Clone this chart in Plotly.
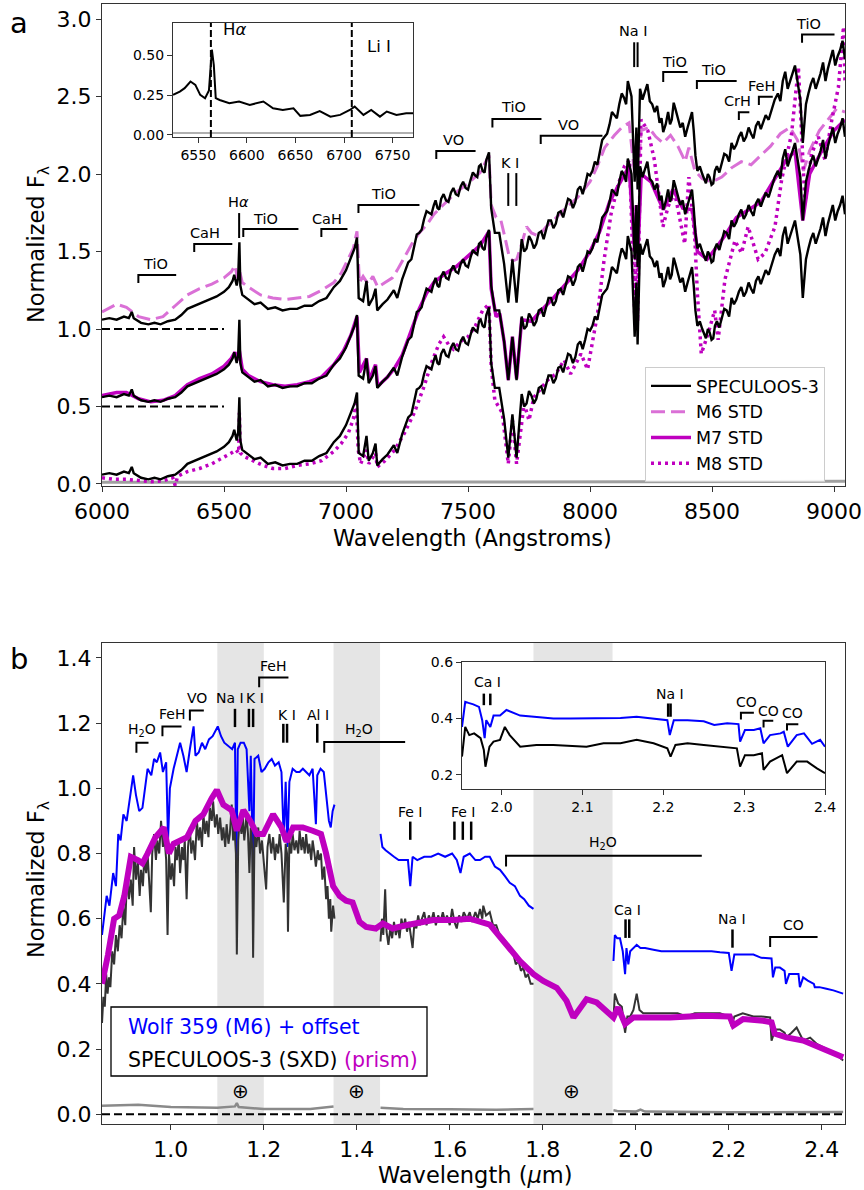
import plotly.graph_objects as go

FONT = "DejaVu Sans"
W, H = 864, 1190

# ======================= Panel (a): optical spectra =======================
SPEC3_WAVE = [6000, 6030, 6060, 6090, 6110, 6122, 6130, 6160, 6190, 6215, 6240, 6270, 6300, 6325, 6350,
              6380, 6410, 6440, 6470, 6500, 6520, 6535, 6542, 6552, 6558, 6563, 6567, 6575, 6600, 6625,
              6650, 6680, 6710, 6740, 6770, 6800, 6830, 6860, 6890, 6920, 6950, 6975, 7000, 7020, 7035,
              7045, 7052, 7070, 7084, 7093, 7110, 7121, 7128, 7150, 7170, 7196, 7210, 7230, 7255, 7268,
              7280, 7290, 7300, 7310, 7320, 7330, 7340, 7350, 7360, 7367, 7375, 7382, 7390, 7400, 7410,
              7420, 7430, 7440, 7450, 7460, 7470, 7480, 7490, 7500, 7510, 7520, 7530, 7538, 7545, 7552,
              7560, 7568, 7575, 7580, 7586, 7595, 7610, 7628, 7648, 7665, 7682, 7699, 7720, 7730, 7740,
              7750, 7760, 7770, 7780, 7790, 7800, 7810, 7820, 7830, 7840, 7850, 7860, 7870, 7880, 7890,
              7900, 7910, 7920, 7930, 7940, 7950, 7960, 7970, 7980, 7990, 8000, 8010, 8020, 8030, 8040,
              8050, 8060, 8070, 8080, 8090, 8100, 8110, 8120, 8130, 8140, 8148, 8155, 8170, 8183, 8190,
              8195, 8205, 8215, 8225, 8235, 8245, 8255, 8265, 8275, 8285, 8293, 8300, 8310, 8320, 8328,
              8335, 8343, 8350, 8360, 8370, 8380, 8390, 8400, 8410, 8418, 8425, 8432, 8440, 8450, 8460,
              8468, 8475, 8483, 8490, 8498, 8505, 8512, 8520, 8530, 8540, 8550, 8560, 8570, 8580, 8590,
              8600, 8610, 8620, 8630, 8640, 8650, 8660, 8670, 8680, 8690, 8700, 8710, 8720, 8732, 8745,
              8757, 8770, 8780, 8790, 8800, 8810, 8820, 8830, 8840, 8850, 8862, 8872, 8885, 8895, 8905,
              8915, 8925, 8935, 8945, 8955, 8965, 8975, 8985, 8995, 9005, 9015, 9025, 9035, 9045]
SPEC3_FLUX = [0.06, 0.07, 0.06, 0.08, 0.07, 0.11, 0.07, 0.04, 0.03, 0.04, 0.03, 0.05, 0.06, 0.09, 0.13,
              0.15, 0.17, 0.19, 0.21, 0.24, 0.27, 0.31, 0.35, 0.28, 0.33, 0.56, 0.28, 0.22, 0.19, 0.16,
              0.17, 0.13, 0.14, 0.12, 0.13, 0.13, 0.15, 0.15, 0.18, 0.20, 0.27, 0.31, 0.38, 0.46, 0.52,
              0.59, 0.20, 0.18, 0.31, 0.15, 0.20, 0.26, 0.12, 0.16, 0.19, 0.25, 0.20, 0.32, 0.43, 0.45,
              0.54, 0.61, 0.62, 0.64, 0.71, 0.76, 0.75, 0.74, 0.80, 0.83, 0.78, 0.77, 0.84, 0.87, 0.83,
              0.82, 0.88, 0.91, 0.87, 0.86, 0.92, 0.95, 0.91, 0.90, 0.96, 1.01, 0.99, 0.98, 1.05, 1.06,
              1.02, 1.01, 1.09, 1.12, 1.14, 0.78, 0.62, 0.62, 0.42, 0.17, 0.45, 0.17, 0.58, 0.50, 0.52,
              0.60, 0.57, 0.52, 0.55, 0.62, 0.63, 0.58, 0.64, 0.70, 0.70, 0.65, 0.68, 0.75, 0.76, 0.72,
              0.78, 0.84, 0.83, 0.78, 0.82, 0.90, 0.92, 0.87, 0.93, 1.00, 0.99, 1.02, 1.08, 1.06, 1.14,
              1.22, 1.24, 1.26, 1.32, 1.40, 1.38, 1.36, 1.45, 1.52, 1.49, 1.45, 1.60, 1.50, 0.95, 1.30,
              0.90, 1.55, 1.48, 1.53, 1.58, 1.47, 1.45, 1.40, 1.44, 1.33, 1.36, 1.27, 1.32, 1.40, 1.32,
              1.35, 1.46, 1.42, 1.35, 1.30, 1.33, 1.24, 1.30, 1.36, 1.40, 1.28, 1.12, 1.02, 1.05, 1.00,
              0.96, 0.94, 1.00, 0.98, 0.93, 0.94, 1.02, 1.05, 1.01, 1.08, 1.13, 1.12, 1.08, 1.20, 1.16,
              1.19, 1.24, 1.27, 1.21, 1.24, 1.30, 1.26, 1.23, 1.31, 1.34, 1.29, 1.33, 1.38, 1.35, 1.42,
              1.48, 1.52, 1.47, 1.60, 1.66, 1.55, 1.60, 1.66, 1.70, 1.60, 1.48, 1.20, 1.45, 1.52, 1.58,
              1.62, 1.55, 1.60, 1.65, 1.72, 1.60, 1.68, 1.74, 1.80, 1.70, 1.76, 1.80, 1.86, 1.74]

M6_WAVE = [6000, 6060, 6100, 6150, 6200, 6250, 6300, 6350, 6400, 6450, 6500, 6530, 6545, 6555, 6563,
           6575, 6600, 6650, 6700, 6750, 6800, 6850, 6900, 6950, 6980, 7010, 7030, 7045, 7055, 7070,
           7090, 7110, 7130, 7160, 7190, 7210, 7240, 7270, 7300, 7330, 7360, 7400, 7450, 7500, 7550,
           7586, 7595, 7615, 7635, 7650, 7670, 7685, 7700, 7720, 7740, 7760, 7790, 7820, 7850, 7900,
           7950, 8000, 8030, 8060, 8100, 8130, 8160, 8183, 8190, 8195, 8210, 8240, 8270, 8300, 8330,
           8360, 8390, 8405, 8430, 8460, 8500, 8540, 8580, 8620, 8660, 8700, 8740, 8780, 8820, 8850,
           8875, 8900, 8940, 8980, 9010, 9045]
M6_FLUX = [0.11, 0.16, 0.14, 0.08, 0.06, 0.08, 0.15, 0.22, 0.26, 0.29, 0.33, 0.37, 0.41, 0.33, 0.38,
           0.30, 0.27, 0.22, 0.20, 0.19, 0.20, 0.21, 0.25, 0.30, 0.36, 0.45, 0.52, 0.63, 0.30, 0.34,
           0.29, 0.34, 0.27, 0.30, 0.33, 0.38, 0.47, 0.55, 0.62, 0.67, 0.74, 0.80, 0.88, 0.94, 1.01,
           1.12, 0.80, 0.72, 0.70, 0.60, 0.46, 0.44, 0.45, 0.55, 0.66, 0.62, 0.60, 0.66, 0.70, 0.78,
           0.85, 0.95, 1.05, 1.17, 1.25, 1.30, 1.33, 1.00, 1.20, 0.98, 1.28, 1.30, 1.24, 1.20, 1.25,
           1.18, 1.08, 1.17, 1.02, 0.97, 0.95, 0.98, 1.04, 1.08, 1.06, 1.12, 1.18, 1.26, 1.30, 1.22,
           1.02, 1.15, 1.28, 1.36, 1.42, 1.40]

M7_WAVE = [6000, 6060, 6100, 6150, 6200, 6250, 6300, 6350, 6400, 6450, 6500, 6530, 6545, 6555, 6563,
           6575, 6600, 6650, 6700, 6750, 6800, 6850, 6900, 6950, 6990, 7020, 7045, 7055, 7084, 7095,
           7121, 7130, 7170, 7200, 7230, 7270, 7300, 7330, 7360, 7400, 7450, 7500, 7550, 7586, 7595,
           7615, 7630, 7648, 7665, 7682, 7699, 7720, 7760, 7800, 7850, 7900, 7950, 8000, 8040, 8080,
           8120, 8160, 8183, 8190, 8195, 8210, 8250, 8300, 8340, 8380, 8420, 8440, 8480, 8520, 8560,
           8600, 8650, 8700, 8750, 8800, 8840, 8872, 8900, 8950, 9000, 9045]
M7_FLUX = [0.07, 0.09, 0.09, 0.05, 0.03, 0.04, 0.07, 0.14, 0.18, 0.21, 0.26, 0.31, 0.35, 0.30, 0.36,
           0.24, 0.20, 0.16, 0.14, 0.13, 0.14, 0.16, 0.19, 0.27, 0.36, 0.46, 0.58, 0.22, 0.31, 0.17,
           0.27, 0.13, 0.19, 0.25, 0.33, 0.50, 0.63, 0.73, 0.80, 0.85, 0.90, 0.97, 1.04, 1.13, 0.76,
           0.58, 0.60, 0.42, 0.17, 0.45, 0.18, 0.56, 0.55, 0.62, 0.70, 0.79, 0.88, 1.00, 1.13, 1.32,
           1.44, 1.55, 1.00, 1.30, 0.95, 1.50, 1.45, 1.27, 1.40, 1.28, 1.27, 1.00, 0.95, 1.03, 1.12,
           1.22, 1.27, 1.32, 1.45, 1.58, 1.65, 1.20, 1.50, 1.65, 1.78, 1.85]

M8_WAVE = [6000, 6050, 6100, 6150, 6200, 6250, 6290, 6300, 6310, 6350, 6400, 6450, 6500, 6530, 6550,
           6560, 6563, 6567, 6580, 6620, 6660, 6700, 6750, 6800, 6850, 6900, 6950, 6980, 7010, 7030,
           7042, 7050, 7060, 7084, 7093, 7121, 7128, 7160, 7200, 7240, 7280, 7320, 7350, 7380, 7400,
           7420, 7440, 7470, 7500, 7530, 7560, 7586, 7595, 7610, 7640, 7665, 7682, 7699, 7730, 7750,
           7770, 7826, 7860, 7894, 7920, 7963, 7990, 8031, 8058, 8086, 8113, 8141, 8162, 8183, 8190,
           8195, 8209, 8237, 8264, 8299, 8320, 8347, 8388, 8405, 8429, 8440, 8456, 8484, 8511, 8525,
           8553, 8594, 8621, 8648, 8689, 8717, 8758, 8785, 8826, 8854, 8865, 8881, 8908, 8936, 8963,
           8991, 9018, 9039, 9045]
M8_FLUX = [0.04, 0.03, 0.03, 0.02, 0.015, 0.02, 0.04, -0.01, 0.05, 0.08, 0.10, 0.13, 0.17, 0.20, 0.22,
           0.20, 0.46, 0.20, 0.18, 0.15, 0.12, 0.10, 0.10, 0.12, 0.13, 0.15, 0.21, 0.26, 0.33, 0.42,
           0.52, 0.22, 0.13, 0.22, 0.13, 0.20, 0.11, 0.15, 0.22, 0.33, 0.46, 0.63, 0.78, 0.90, 0.95,
           0.90, 0.87, 0.92, 0.95, 1.02, 1.12, 1.16, 0.76, 0.54, 0.46, 0.13, 0.41, 0.13, 0.52, 0.41,
           0.56, 0.67, 0.71, 0.80, 0.71, 0.84, 0.74, 1.10, 1.45, 1.74, 1.92, 2.05, 2.09, 1.10, 1.80,
           1.05, 2.35, 2.28, 2.09, 1.66, 1.79, 1.88, 1.55, 1.98, 1.60, 1.23, 0.84, 0.97, 1.12, 0.93,
           1.32, 1.57, 1.49, 1.66, 1.45, 1.49, 1.66, 1.96, 2.26, 2.69, 2.30, 1.81, 2.13, 2.24, 2.09,
           2.35, 2.56, 2.95, 2.60]

SPEC3_OFFSETS = [1.0, 0.5, 0.0]     # top, middle, bottom copies of SPECULOOS-3
STD_OFFSETS = {"M6": 1.0, "M7": 0.5, "M8": 0.0}
REF_LEVELS_A = [1.0, 0.5]           # dashed zero-levels of offset spectra

NOISE_A_WAVE = [6000, 6500, 7000, 7500, 8000, 8500, 9045]
NOISE_A_FLUX = [0.011, 0.010, 0.012, 0.013, 0.014, 0.015, 0.017]

# inset (a): H-alpha / Li I region
INSET_A_WAVE = [6524, 6531, 6536, 6542, 6547, 6552, 6557, 6561, 6564, 6566, 6568, 6572, 6582, 6592, 6603,
                6617, 6627, 6637, 6648, 6655, 6665, 6675, 6686, 6696, 6706, 6711, 6720, 6728, 6737, 6744,
                6754, 6764, 6771]
INSET_A_FLUX = [0.252, 0.273, 0.294, 0.336, 0.315, 0.252, 0.231, 0.28, 0.536, 0.44, 0.231, 0.22, 0.20,
                0.21, 0.189, 0.21, 0.168, 0.157, 0.168, 0.12, 0.126, 0.15, 0.115, 0.126, 0.157, 0.178,
                0.126, 0.157, 0.115, 0.147, 0.126, 0.136, 0.136]
INSET_A_NOISE_WAVE = [6524, 6650, 6771]
INSET_A_NOISE_FLUX = [0.012, 0.011, 0.012]
INSET_A_LINES = [6563, 6708]

# feature labels (a): brackets = (label, x0, x1, y_line, y_tick, text_x, text_y)
BRACKETS_A = [("TiO", 6149, 6304, 1.348, 1.297, 6218, 1.42),
              ("CaH", 6378, 6534, 1.548, 1.497, 6423, 1.62),
              ("TiO", 6579, 6805, 1.645, 1.594, 6669, 1.71),
              ("CaH", 6899, 7006, 1.645, 1.594, 6923, 1.71),
              ("TiO", 7051, 7301, 1.800, 1.748, 7154, 1.87),
              ("VO", 7370, 7531, 2.148, 2.097, 7441, 2.22),
              ("TiO", 7600, 7801, 2.355, 2.300, 7687, 2.43),
              ("VO", 7798, 8051, 2.247, 2.194, 7913, 2.316),
              ("TiO", 8300, 8400, 2.658, 2.594, 8348, 2.72),
              ("TiO", 8438, 8601, 2.600, 2.548, 8508, 2.67),
              ("CrH", 8610, 8653, 2.398, 2.348, 8605, 2.473),
              ("FeH", 8692, 8749, 2.499, 2.445, 8704, 2.568),
              ("TiO", 8869, 9002, 2.900, 2.847, 8897, 2.97)]
# line markers = (label, [x positions], y0, y1, text_x, text_y)
LINES_A = [("H<i>α</i>", [6562], 1.587, 1.748, 6558, 1.82),
           ("K I", [7665, 7698], 1.794, 2.006, 7673, 2.07),
           ("Na I", [8181, 8195], 2.690, 2.850, 8178, 2.92)]

# ======================= Panel (b): near-infrared spectra =======================
WOLF_J_WAVE = [0.852, 0.858, 0.862, 0.868, 0.876, 0.882, 0.887, 0.892, 0.898, 0.905, 0.912, 0.919, 0.925,
               0.932, 0.939, 0.945, 0.950, 0.958, 0.964, 0.970, 0.977, 0.983, 0.990, 0.994, 0.998, 1.006,
               1.013, 1.020, 1.027, 1.034, 1.041, 1.049, 1.053, 1.060, 1.067, 1.074, 1.082, 1.090, 1.101,
               1.108, 1.115, 1.124, 1.132, 1.138, 1.141, 1.144, 1.150, 1.157, 1.163, 1.169, 1.172, 1.177,
               1.180, 1.188, 1.195, 1.202, 1.210, 1.217, 1.224, 1.232, 1.238, 1.243, 1.247, 1.251, 1.255,
               1.262, 1.270, 1.277, 1.284, 1.291, 1.298, 1.305, 1.312, 1.315, 1.322, 1.329, 1.336, 1.340,
               1.344, 1.348, 1.352]
WOLF_J_FLUX = [0.55, 0.62, 0.67, 0.64, 0.74, 0.70, 0.86, 0.84, 0.92, 0.90, 0.97, 1.04, 0.98,
               0.93, 0.94, 1.00, 1.06, 1.04, 1.09, 1.08, 1.11, 1.05, 1.08, 0.84, 1.00, 1.06,
               1.10, 1.14, 1.10, 1.05, 1.12, 1.19, 1.10, 1.11, 1.14, 1.12, 1.15, 1.16, 1.19,
               1.16, 1.14, 1.13, 1.12, 1.14, 0.74, 1.12, 1.14, 1.14, 1.12, 0.93, 1.10, 0.74,
               1.09, 1.10, 1.05, 1.06, 1.08, 1.09, 1.07, 1.08, 1.05, 0.84, 1.02, 0.82, 1.02,
               1.06, 1.05, 1.05, 1.06, 1.05, 1.04, 1.06, 0.89, 1.04, 1.06, 1.05, 0.96, 0.90,
               0.88, 0.93, 0.95]
WOLF_H_WAVE = [1.451, 1.455, 1.462, 1.470, 1.480, 1.490, 1.500, 1.510, 1.515, 1.520, 1.530, 1.545, 1.560,
               1.575, 1.590, 1.605, 1.615, 1.623, 1.630, 1.643, 1.655, 1.665, 1.676, 1.686, 1.697, 1.708,
               1.719, 1.729, 1.740, 1.751, 1.760, 1.770, 1.780]
WOLF_H_FLUX = [0.86, 0.82, 0.81, 0.80, 0.79, 0.78, 0.78, 0.78, 0.70, 0.79, 0.78, 0.79, 0.79,
               0.80, 0.79, 0.80, 0.78, 0.74, 0.79, 0.80, 0.78, 0.78, 0.79, 0.79, 0.76, 0.75,
               0.73, 0.71, 0.70, 0.67, 0.66, 0.64, 0.63]
WOLF_K_WAVE = [1.952, 1.955, 1.960, 1.966, 1.972, 1.977, 1.980, 1.984, 1.988, 1.995, 2.002, 2.010, 2.020,
               2.038, 2.055, 2.074, 2.090, 2.109, 2.127, 2.145, 2.163, 2.181, 2.200, 2.206, 2.212, 2.230,
               2.253, 2.270, 2.285, 2.292, 2.295, 2.300, 2.310, 2.320, 2.323, 2.330, 2.340, 2.350, 2.353,
               2.360, 2.370, 2.383, 2.385, 2.395, 2.410, 2.425, 2.446]
WOLF_K_FLUX = [0.47, 0.55, 0.54, 0.54, 0.50, 0.43, 0.51, 0.46, 0.50, 0.51, 0.52, 0.51, 0.51,
               0.505, 0.50, 0.50, 0.50, 0.50, 0.50, 0.50, 0.50, 0.497, 0.495, 0.44, 0.49, 0.49,
               0.49, 0.48, 0.48, 0.478, 0.42, 0.45, 0.45, 0.44, 0.40, 0.43, 0.43, 0.43, 0.39,
               0.42, 0.41, 0.40, 0.39, 0.39, 0.385, 0.38, 0.37]

SXD_J_WAVE = [0.852, 0.855, 0.858, 0.861, 0.864, 0.867, 0.870, 0.874, 0.878, 0.882, 0.886, 0.890, 0.894,
              0.898, 0.902, 0.906, 0.910, 0.914, 0.918, 0.921, 0.925, 0.929, 0.933, 0.936, 0.940, 0.943,
              0.947, 0.950, 0.954, 0.957, 0.960, 0.964, 0.968, 0.971, 0.975, 0.979, 0.983, 0.986, 0.990,
              0.993, 0.996, 1.000, 1.003, 1.007, 1.010, 1.013, 1.017, 1.020, 1.024, 1.027, 1.030, 1.034,
              1.037, 1.041, 1.044, 1.048, 1.052, 1.056, 1.060, 1.063, 1.067, 1.070, 1.074, 1.077, 1.081,
              1.084, 1.088, 1.091, 1.095, 1.099, 1.102, 1.106, 1.110, 1.113, 1.117, 1.120, 1.124, 1.127,
              1.131, 1.134, 1.137, 1.140, 1.142, 1.145, 1.148, 1.152, 1.155, 1.158, 1.163, 1.166, 1.169,
              1.172, 1.175, 1.177, 1.180, 1.184, 1.188, 1.192, 1.196, 1.200, 1.205, 1.208, 1.212, 1.216,
              1.220, 1.224, 1.227, 1.231, 1.234, 1.238, 1.243, 1.247, 1.250, 1.252, 1.255, 1.259, 1.262,
              1.266, 1.270, 1.274, 1.277, 1.281, 1.284, 1.288, 1.291, 1.295, 1.298, 1.302, 1.305, 1.309,
              1.312, 1.316, 1.319, 1.323, 1.326, 1.330, 1.334, 1.337, 1.340, 1.343, 1.345, 1.349, 1.352]
SXD_J_FLUX = [0.28, 0.36, 0.33, 0.43, 0.37, 0.42, 0.39, 0.50, 0.46, 0.55, 0.50, 0.58, 0.54,
              0.64, 0.58, 0.74, 0.66, 0.72, 0.64, 0.82, 0.72, 0.78, 0.67, 0.75, 0.70, 0.79,
              0.74, 0.80, 0.70, 0.62, 0.80, 0.86, 0.78, 0.84, 0.80, 0.90, 0.82, 0.86, 0.78,
              0.55, 0.80, 0.72, 0.77, 0.70, 0.82, 0.78, 0.84, 0.74, 0.82, 0.78, 0.84, 0.66,
              0.82, 0.88, 0.80, 0.84, 0.78, 0.90, 0.84, 0.88, 0.82, 0.92, 0.86, 0.90, 0.85,
              0.94, 0.90, 0.96, 0.88, 0.92, 0.86, 0.91, 0.84, 0.88, 0.82, 0.89, 0.83, 0.86,
              0.95, 0.84, 0.88, 0.80, 0.49, 0.84, 0.90, 0.86, 0.91, 0.84, 0.92, 0.86, 0.74,
              0.88, 0.82, 0.48, 0.86, 0.82, 0.88, 0.80, 0.84, 0.76, 0.69, 0.82, 0.86, 0.80,
              0.85, 0.78, 0.83, 0.80, 0.86, 0.80, 0.65, 0.83, 0.80, 0.56, 0.84, 0.80, 0.86,
              0.81, 0.84, 0.80, 0.87, 0.81, 0.85, 0.80, 0.86, 0.80, 0.83, 0.78, 0.84, 0.80,
              0.76, 0.81, 0.78, 0.80, 0.72, 0.76, 0.66, 0.70, 0.60, 0.66, 0.56, 0.64, 0.60]
SXD_H_WAVE = [1.451, 1.454, 1.457, 1.461, 1.464, 1.468, 1.472, 1.476, 1.480, 1.484, 1.488, 1.492, 1.496,
              1.500, 1.504, 1.508, 1.512, 1.516, 1.520, 1.524, 1.528, 1.532, 1.536, 1.540, 1.545, 1.550,
              1.555, 1.560, 1.565, 1.570, 1.575, 1.580, 1.585, 1.590, 1.594, 1.600, 1.605, 1.610, 1.615,
              1.620, 1.625, 1.630, 1.637, 1.643, 1.648, 1.655, 1.660, 1.665, 1.670, 1.672, 1.678, 1.686,
              1.693, 1.700, 1.707, 1.715, 1.720, 1.726, 1.731, 1.737, 1.742, 1.748, 1.753, 1.758, 1.763,
              1.768, 1.774, 1.780]
SXD_H_FLUX = [0.53, 0.60, 0.55, 0.69, 0.56, 0.52, 0.57, 0.54, 0.59, 0.55, 0.58, 0.54, 0.60,
              0.57, 0.60, 0.56, 0.59, 0.55, 0.51, 0.59, 0.57, 0.61, 0.58, 0.60, 0.62, 0.58,
              0.61, 0.59, 0.62, 0.58, 0.61, 0.59, 0.62, 0.59, 0.61, 0.58, 0.63, 0.59, 0.57,
              0.61, 0.59, 0.62, 0.60, 0.62, 0.59, 0.62, 0.60, 0.63, 0.60, 0.64, 0.61, 0.62,
              0.58, 0.58, 0.55, 0.54, 0.53, 0.51, 0.50, 0.49, 0.46, 0.47, 0.44, 0.45, 0.42,
              0.43, 0.40, 0.40]
SXD_K_WAVE = [1.952, 1.955, 1.962, 1.970, 1.977, 1.982, 1.988, 1.995, 2.002, 2.008, 2.016, 2.030, 2.045,
              2.060, 2.074, 2.090, 2.109, 2.127, 2.145, 2.163, 2.181, 2.200, 2.206, 2.212, 2.230, 2.253,
              2.270, 2.289, 2.292, 2.300, 2.310, 2.320, 2.324, 2.335, 2.346, 2.360, 2.375, 2.390, 2.405,
              2.425, 2.446]
SXD_K_FLUX = [0.29, 0.37, 0.34, 0.33, 0.25, 0.30, 0.30, 0.32, 0.37, 0.32, 0.31, 0.31, 0.31,
              0.31, 0.31, 0.31, 0.30, 0.31, 0.31, 0.31, 0.31, 0.30, 0.27, 0.30, 0.31, 0.30,
              0.30, 0.297, 0.226, 0.26, 0.26, 0.25, 0.236, 0.25, 0.266, 0.226, 0.235, 0.215, 0.205,
              0.19, 0.165]

PRISM_WAVE = [0.852, 0.855, 0.865, 0.878, 0.889, 0.900, 0.914, 0.929, 0.939, 0.950, 0.967, 0.985, 0.996,
              1.006, 1.020, 1.035, 1.053, 1.070, 1.088, 1.099, 1.113, 1.131, 1.142, 1.156, 1.171, 1.185,
              1.199, 1.220, 1.238, 1.249, 1.263, 1.284, 1.305, 1.323, 1.334, 1.349, 1.363, 1.377, 1.391,
              1.406, 1.420, 1.441, 1.456, 1.477, 1.506, 1.535, 1.564, 1.607, 1.643, 1.686, 1.715, 1.751,
              1.780, 1.801, 1.830, 1.851, 1.866, 1.880, 1.894, 1.916, 1.937, 1.952, 1.962, 1.977, 1.995,
              2.023, 2.074, 2.145, 2.202, 2.210, 2.231, 2.274, 2.292, 2.299, 2.324, 2.360, 2.396, 2.446]
PRISM_FLUX = [0.40, 0.42, 0.49, 0.60, 0.61, 0.67, 0.79, 0.78, 0.77, 0.80, 0.85, 0.88, 0.80,
              0.83, 0.84, 0.85, 0.90, 0.92, 0.97, 0.995, 0.95, 0.933, 0.87, 0.933, 0.90, 0.86,
              0.86, 0.92, 0.88, 0.836, 0.88, 0.88, 0.87, 0.86, 0.80, 0.70, 0.67, 0.655, 0.65,
              0.59, 0.575, 0.57, 0.585, 0.57, 0.58, 0.59, 0.596, 0.596, 0.60, 0.582, 0.531, 0.47,
              0.43, 0.409, 0.388, 0.348, 0.297, 0.328, 0.353, 0.343, 0.317, 0.297, 0.328, 0.277, 0.297,
              0.297, 0.297, 0.302, 0.30, 0.272, 0.292, 0.287, 0.282, 0.247, 0.236, 0.226, 0.205, 0.175]

NOISE_B_J_WAVE = [0.852, 0.93, 1.00, 1.10, 1.138, 1.142, 1.146, 1.20, 1.30, 1.35]
NOISE_B_J_FLUX = [0.026, 0.029, 0.022, 0.020, 0.024, 0.034, 0.022, 0.016, 0.016, 0.024]
NOISE_B_H_WAVE = [1.451, 1.50, 1.60, 1.70, 1.780]
NOISE_B_H_FLUX = [0.020, 0.016, 0.015, 0.014, 0.016]
NOISE_B_K_WAVE = [1.952, 1.960, 2.000, 2.010, 2.020, 2.200, 2.446]
NOISE_B_K_FLUX = [0.012, 0.010, 0.008, 0.014, 0.008, 0.006, 0.007]

TELLURIC_BANDS = [(1.10, 1.20), (1.35, 1.45), (1.78, 1.95)]
TELLURIC_MARKS = [1.15, 1.40, 1.862]

# inset (b): K band
INSET_B_WOLF_WAVE = [1.951, 1.955, 1.959, 1.965, 1.972, 1.976, 1.979, 1.981, 1.986, 1.990, 1.998, 2.006,
                     2.023, 2.043, 2.064, 2.085, 2.105, 2.126, 2.147, 2.167, 2.188, 2.205, 2.208, 2.213,
                     2.230, 2.250, 2.263, 2.279, 2.293, 2.295, 2.301, 2.312, 2.320, 2.324, 2.332, 2.345,
                     2.349, 2.354, 2.365, 2.374, 2.384, 2.394, 2.400]
INSET_B_WOLF_FLUX = [0.37, 0.459, 0.455, 0.45, 0.441, 0.394, 0.33, 0.394, 0.37, 0.41, 0.41, 0.43,
                     0.41, 0.406, 0.40, 0.40, 0.40, 0.40, 0.402, 0.406, 0.40, 0.394, 0.341, 0.394,
                     0.394, 0.39, 0.377, 0.383, 0.38, 0.318, 0.359, 0.359, 0.365, 0.312, 0.341, 0.347,
                     0.353, 0.30, 0.341, 0.347, 0.31, 0.324, 0.30]
INSET_B_SXD_WAVE = [1.951, 1.955, 1.960, 1.966, 1.974, 1.978, 1.980, 1.985, 1.990, 1.998, 2.004, 2.010,
                    2.023, 2.043, 2.064, 2.085, 2.105, 2.126, 2.147, 2.167, 2.188, 2.205, 2.209, 2.215,
                    2.230, 2.250, 2.271, 2.291, 2.295, 2.301, 2.312, 2.322, 2.324, 2.332, 2.347, 2.353,
                    2.365, 2.378, 2.390, 2.400]
INSET_B_SXD_FLUX = [0.265, 0.37, 0.341, 0.347, 0.33, 0.288, 0.229, 0.30, 0.318, 0.324, 0.37, 0.341,
                    0.30, 0.306, 0.306, 0.303, 0.30, 0.312, 0.312, 0.324, 0.312, 0.294, 0.265, 0.306,
                    0.312, 0.306, 0.30, 0.294, 0.229, 0.27, 0.27, 0.277, 0.218, 0.247, 0.27, 0.206,
                    0.247, 0.247, 0.223, 0.206]

BRACKETS_B = [("H<sub>2</sub>O", 0.926, 0.952, 1.140, 1.109, 0.937, 1.180),
              ("FeH", 0.982, 1.023, 1.190, 1.160, 1.002, 1.228),
              ("VO", 1.041, 1.071, 1.239, 1.208, 1.056, 1.276),
              ("FeH", 1.190, 1.253, 1.340, 1.310, 1.220, 1.376),
              ("H<sub>2</sub>O", 1.330, 1.504, 1.142, 1.109, 1.405, 1.180),
              ("H<sub>2</sub>O", 1.721, 2.142, 0.793, 0.760, 1.929, 0.832),
              ("CO", 2.289, 2.391, 0.544, 0.513, 2.339, 0.580)]
LINES_B = [("Na I", [1.138], 1.188, 1.244, 1.127, 1.276),
           ("K I", [1.168, 1.177], 1.188, 1.244, 1.182, 1.276),
           ("K I", [1.242, 1.250], 1.140, 1.198, 1.250, 1.225),
           ("Al I", [1.315], 1.140, 1.198, 1.316, 1.225),
           ("Fe I", [1.515], 0.842, 0.898, 1.515, 0.928),
           ("Fe I", [1.610, 1.628, 1.646], 0.842, 0.898, 1.628, 0.928),
           ("Ca I", [1.978, 1.986], 0.541, 0.598, 1.983, 0.628),
           ("Na I", [2.208], 0.511, 0.567, 2.207, 0.598)]
BRACKETS_IB = [("CO", 2.296, 2.312, 0.420, 0.396, 2.303, 0.459),
               ("CO", 2.324, 2.336, 0.392, 0.368, 2.330, 0.427),
               ("CO", 2.353, 2.367, 0.379, 0.357, 2.360, 0.418)]
LINES_IB = [("Ca I", [1.978, 1.986], 0.447, 0.488, 1.983, 0.529),
            ("Na I", [2.206, 2.209], 0.406, 0.453, 2.208, 0.488)]

# ======================= colours =======================
C_BLACK = "black"
C_M6 = "orchid"
C_MAG = "#BF00BF"
C_BLUE = "#0000FF"
C_SXD = "#333333"

fig = go.Figure()
shapes, annotations = [], []


def xdom(p0, p1):
    return [p0 / W, p1 / W]


def ydom(top, bot):
    return [1 - bot / H, 1 - top / H]


def add(x, y, color, width, dash="solid", xa="x", ya="y", name=None, show=False, rank=None):
    kw = dict(x=x, y=y, mode="lines", line=dict(color=color, width=width, dash=dash),
              xaxis=xa, yaxis=ya, showlegend=show, hoverinfo="skip")
    if name:
        kw["name"] = name
    if rank is not None:
        kw["legendrank"] = rank
    fig.add_trace(go.Scatter(**kw))


# ---------- panel (a) traces ----------
add(NOISE_A_WAVE, NOISE_A_FLUX, "#a0a0a0", 3)
add(M6_WAVE, [v + STD_OFFSETS["M6"] for v in M6_FLUX], C_M6, 3, "14px,6px", name="M6 STD", show=True, rank=2)
add(M7_WAVE, [v + STD_OFFSETS["M7"] for v in M7_FLUX], C_MAG, 3.5, name="M7 STD", show=True, rank=3)
add(M8_WAVE, [v + STD_OFFSETS["M8"] for v in M8_FLUX], C_MAG, 3.5, "3px,4px", name="M8 STD", show=True, rank=4)
for i, off in enumerate(SPEC3_OFFSETS):
    add(SPEC3_WAVE, [v + off for v in SPEC3_FLUX], C_BLACK, 2.4,
        name="SPECULOOS-3", show=(i == 0), rank=1)

# ---------- inset (a) ----------
add(INSET_A_NOISE_WAVE, INSET_A_NOISE_FLUX, "#b0b0b0", 2, xa="x3", ya="y3")
add(INSET_A_WAVE, INSET_A_FLUX, C_BLACK, 2, xa="x3", ya="y3")

# ---------- panel (b) traces ----------
for wx, wy in [(WOLF_J_WAVE, WOLF_J_FLUX), (WOLF_H_WAVE, WOLF_H_FLUX), (WOLF_K_WAVE, WOLF_K_FLUX)]:
    add(wx, wy, C_BLUE, 2, xa="x2", ya="y2")
for sx, sy in [(SXD_J_WAVE, SXD_J_FLUX), (SXD_H_WAVE, SXD_H_FLUX), (SXD_K_WAVE, SXD_K_FLUX)]:
    add(sx, sy, C_SXD, 2, xa="x2", ya="y2")
add(PRISM_WAVE, PRISM_FLUX, C_MAG, 6, xa="x2", ya="y2")
for nx, ny in [(NOISE_B_J_WAVE, NOISE_B_J_FLUX), (NOISE_B_H_WAVE, NOISE_B_H_FLUX), (NOISE_B_K_WAVE, NOISE_B_K_FLUX)]:
    add(nx, ny, "#8a8a8a", 2.5, xa="x2", ya="y2")

# ---------- inset (b) ----------
add(INSET_B_WOLF_WAVE, INSET_B_WOLF_FLUX, C_BLUE, 2, xa="x4", ya="y4")
add(INSET_B_SXD_WAVE, INSET_B_SXD_FLUX, C_BLACK, 2, xa="x4", ya="y4")


# ---------- shapes & labels ----------
def text(x, y, s, xref, yref, size, color="black", **kw):
    d = dict(x=x, y=y, text=s, xref=xref, yref=yref, showarrow=False,
             font=dict(family=FONT, size=size, color=color), xanchor="center", yanchor="middle")
    d.update(kw)
    annotations.append(d)


def brackets(items, xref, yref, size, lw=2):
    for lab, x0, x1, yl, yt, tx, ty in items:
        shapes.append(dict(type="path", path=f"M {x0},{yt} L {x0},{yl} L {x1},{yl}",
                           xref=xref, yref=yref, line=dict(color="black", width=lw)))
        text(tx, ty, lab, xref, yref, size)


def lines(items, xref, yref, size, lw=2):
    for lab, xs, y0, y1, tx, ty in items:
        for xv in xs:
            shapes.append(dict(type="line", x0=xv, x1=xv, y0=y0, y1=y1, xref=xref, yref=yref,
                               line=dict(color="black", width=lw)))
        text(tx, ty, lab, xref, yref, size)


brackets(BRACKETS_A, "x", "y", 14.5)
lines(LINES_A, "x", "y", 14.5)
for lvl in REF_LEVELS_A:
    shapes.append(dict(type="line", x0=6000, x1=6500, y0=lvl, y1=lvl, xref="x", yref="y",
                       line=dict(color="black", width=2, dash="8px,4px")))
for xv in INSET_A_LINES:
    shapes.append(dict(type="line", x0=xv, x1=xv, y0=0, y1=1, xref="x3", yref="y3 domain",
                       line=dict(color="black", width=2, dash="7px,3px")))
text(6587, 0.662, "H<i>α</i>", "x3", "y3", 16.5)
text(6736, 0.557, "Li I", "x3", "y3", 16.5)

for b0, b1 in TELLURIC_BANDS:
    shapes.append(dict(type="rect", x0=b0, x1=b1, y0=0, y1=1, xref="x2", yref="y2 domain",
                       fillcolor="#e5e5e5", line=dict(width=0), layer="below"))
for xm in TELLURIC_MARKS:
    text(xm, 0.071, "⊕", "x2", "y2", 20)
shapes.append(dict(type="line", x0=0, x1=1, y0=0, y1=0, xref="x2 domain", yref="y2",
                   line=dict(color="black", width=2, dash="8px,4px")))
brackets(BRACKETS_B, "x2", "y2", 14)
lines(LINES_B, "x2", "y2", 14, lw=2.5)
brackets(BRACKETS_IB, "x4", "y4", 14)
lines(LINES_IB, "x4", "y4", 14, lw=2.5)

# legend box (b)
shapes.append(dict(type="rect", x0=111 / W, x1=427 / W, y0=1 - 1076 / H, y1=1 - 1007 / H,
                   xref="paper", yref="paper", line=dict(color="black", width=1.3),
                   fillcolor="white", layer="above"))
text(126 / W, 1 - 1027 / H, "Wolf 359 (M6) + offset", "paper", "paper", 20.5, C_BLUE, xanchor="left")
text(126 / W, 1 - 1060 / H, f"SPECULOOS-3 (SXD) <span style='color:{C_MAG}'>(prism)</span>",
     "paper", "paper", 20.5, "black", xanchor="left")

# axis titles & panel letters
text(472 / W, 1 - 538 / H, "Wavelength (Angstroms)", "paper", "paper", 22.5)
text(38 / W, 1 - 245 / H, "Normalized F<sub>λ</sub>", "paper", "paper", 22.5, textangle=-90)
text(475 / W, 1 - 1175 / H, "Wavelength (<i>μ</i>m)", "paper", "paper", 22.5)
text(38 / W, 1 - 880 / H, "Normalized F<sub>λ</sub>", "paper", "paper", 22.5, textangle=-90)
text(19 / W, 1 - 23 / H, "a", "paper", "paper", 29)
text(19 / W, 1 - 659 / H, "b", "paper", "paper", 29)


def axis(dom, rng, tickvals, fmt, size, anchor, lc="#333333"):
    return dict(domain=dom, range=rng, tickvals=tickvals, tickformat=fmt, anchor=anchor,
                showline=True, linecolor=lc, linewidth=1.3, mirror=True, ticks="outside",
                ticklen=5, tickwidth=1.3, tickcolor=lc, showgrid=False, zeroline=False,
                automargin=False, tickfont=dict(family=FONT, size=size, color="black"))


fig.update_layout(
    width=W, height=H, margin=dict(l=0, r=0, t=0, b=0),
    paper_bgcolor="white", plot_bgcolor="white",
    font=dict(family=FONT, color="black"),
    xaxis=axis(xdom(102, 845), [6000, 9045], [6000, 6500, 7000, 7500, 8000, 8500, 9000], "d", 22, "y"),
    yaxis=axis(ydom(4, 486), [-0.013, 3.097], [0, 0.5, 1.0, 1.5, 2.0, 2.5, 3.0], ".1f", 22, "x"),
    xaxis2=axis(xdom(102, 845), [0.852, 2.45], [1.0, 1.2, 1.4, 1.6, 1.8, 2.0, 2.2, 2.4], ".1f", 22, "y2"),
    yaxis2=axis(ydom(643, 1124), [-0.03, 1.446], [0, 0.2, 0.4, 0.6, 0.8, 1.0, 1.2, 1.4], ".1f", 22, "x2"),
    xaxis3=axis(xdom(173, 413), [6524, 6771], [6550, 6600, 6650, 6700, 6750], "d", 14, "y3"),
    yaxis3=axis(ydom(23, 137), [-0.013, 0.704], [0, 0.25, 0.5], ".2f", 14, "x3"),
    xaxis4=axis(xdom(462, 825), [1.951, 2.4], [2.0, 2.1, 2.2, 2.3, 2.4], ".1f", 14, "y4"),
    yaxis4=axis(ydom(662, 789), [0.15, 0.6], [0.2, 0.4, 0.6], ".1f", 14, "x4"),
    shapes=shapes, annotations=annotations,
    showlegend=True,
    legend=dict(x=645 / W, y=1 - 367 / H, xanchor="left", yanchor="top",
                bgcolor="rgba(255,255,255,0.85)", bordercolor="#cccccc", borderwidth=1,
                font=dict(family=FONT, size=17.5, color="black"), itemwidth=40,
                traceorder="normal", tracegroupgap=0),
)

fig.write_html("out.html", config={"displayModeBar": False},
               post_script="document.body.style.margin='0';")
